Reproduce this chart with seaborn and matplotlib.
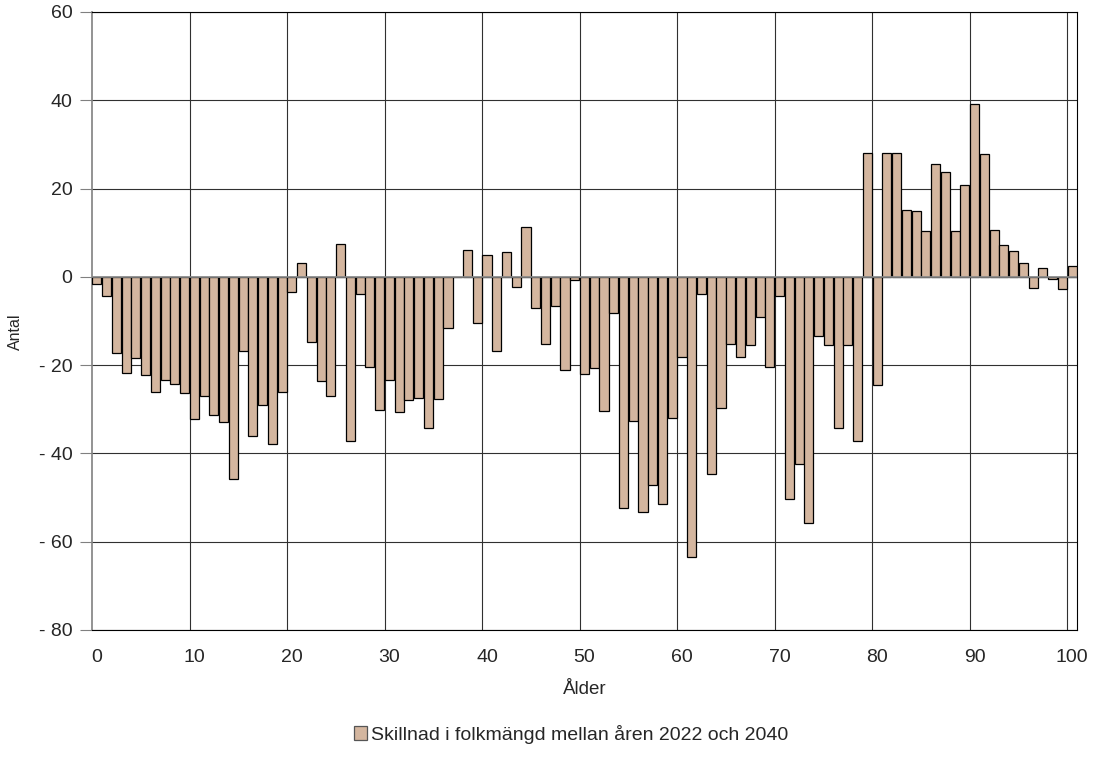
import numpy as np
import pandas as pd
import matplotlib
matplotlib.use("Agg")
import matplotlib.pyplot as plt
from matplotlib.patches import Patch
import seaborn as sns

# DATA: difference in population per age (0-100)
ages = list(range(0, 101))
diff = [
    -1.6, -4.3, -17.3, -21.7, -18.4, -22.2, -26.0, -23.4, -24.3, -26.2,   # 0-9
    -32.3, -27.1, -31.3, -32.9, -45.9, -16.9, -36.0, -29.0, -37.8, -26.1,  # 10-19
    -3.4, 3.2, -14.7, -23.7, -27.0, 7.4, -37.2, -3.8, -20.5, -30.1,        # 20-29
    -23.4, -30.7, -27.8, -27.5, -34.2, -27.7, -11.6, 0.0, 6.0, -10.4,      # 30-39
    5.0, -16.9, 5.7, -2.3, 11.4, -7.0, -15.3, -6.5, -21.2, -0.7,           # 40-49
    -22.0, -20.6, -30.5, -8.3, -52.4, -32.6, -53.3, -47.2, -51.5, -32.0,   # 50-59
    -18.2, -63.4, -3.8, -44.7, -29.8, -15.3, -18.2, -15.5, -9.2, -20.4,    # 60-69
    -4.4, -50.4, -42.3, -55.8, -13.5, -15.4, -34.3, -15.4, -37.2, 28.1,    # 70-79
    -24.5, 28.0, 28.0, 15.1, 14.9, 10.5, 25.6, 23.8, 10.3, 20.9,           # 80-89
    39.2, 27.8, 10.7, 7.3, 5.9, 3.1, -2.6, 2.0, -0.5, -2.8,                # 90-99
    2.5,                                                                   # 100
]
legend_label = "Skillnad i folkmängd mellan åren 2022 och 2040"
x_ticks = list(range(0, 101, 10))
y_ticks = [60, 40, 20, 0, -20, -40, -60, -80]
y_labels = ["60", "40", "20", "0", "- 20", "- 40", "- 60", "- 80"]

df = pd.DataFrame({"age": ages, "diff": diff})

bar_color = "#D4B69F"

sns.set_style("white")
plt.rcParams["font.family"] = ["Liberation Sans", "DejaVu Sans"]

fig = plt.figure(figsize=(10.95, 7.72), dpi=100)
ax = fig.add_axes([92 / 1095, 1 - 630 / 772, (1077 - 92) / 1095, (630 - 12) / 772])

sns.barplot(data=df, x="age", y="diff", color=bar_color, saturation=1,
            edgecolor="black", linewidth=0.9, width=0.93, ax=ax, zorder=3)

# zero line drawn over the bars
ax.axhline(0, color="#8a8a8a", linewidth=1.2, zorder=4)

ax.set_xlim(-0.5, 100.5)
ax.set_ylim(-80, 60)

# major ticks = labels at category centres, minor = grid at category boundaries
ax.set_xticks(x_ticks)
ax.set_xticklabels([str(t) for t in x_ticks], fontsize=14)
ax.set_xticks([9.5 + 10 * k for k in range(10)], minor=True)
ax.tick_params(axis="x", which="both", length=0, pad=14)
ax.set_yticks(y_ticks)
ax.set_yticklabels(y_labels, fontsize=14)
ax.tick_params(axis="y", length=9, color="#808080", pad=5, direction="out", left=True)

ax.grid(False)
ax.xaxis.grid(True, which="minor", color="#303030", linewidth=0.8, zorder=0)
ax.yaxis.grid(True, which="major", color="#303030", linewidth=0.8, zorder=0)
ax.set_axisbelow(True)

for side in ["top", "right", "bottom"]:
    ax.spines[side].set_color("black")
    ax.spines[side].set_linewidth(0.8)
ax.spines["left"].set_color("#808080")
ax.spines["left"].set_linewidth(1.2)

ax.set_xlabel("Ålder", fontsize=13.5)
ax.xaxis.set_label_coords(0.5, -0.0825)
ax.set_ylabel("Antal", fontsize=11.5)
ax.yaxis.set_label_coords(-0.078, 0.482)
ax.yaxis.label.set_verticalalignment("center")

handle = Patch(facecolor=bar_color, edgecolor="#555555", linewidth=0.9)
fig.legend([handle], [legend_label], loc="center",
           bbox_to_anchor=(571 / 1095, 1 - 734 / 772), frameon=False,
           fontsize=14, handlelength=0.7, handleheight=0.7, handletextpad=0.2)

fig.savefig("out.png", dpi=100)
